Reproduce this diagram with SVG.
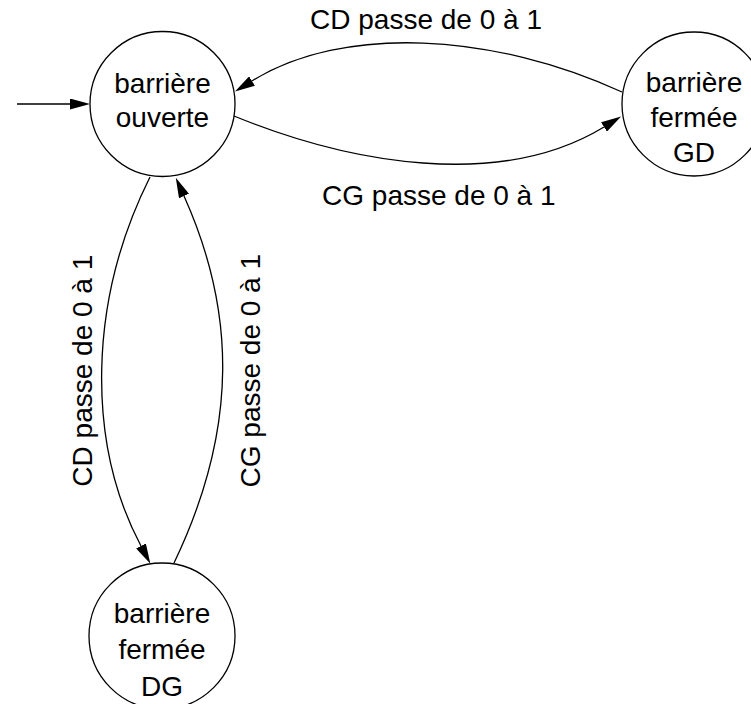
<svg xmlns="http://www.w3.org/2000/svg" width="751" height="704" viewBox="0 0 751 704">
<style>
.node circle{fill:#fff;stroke:#000;stroke-width:1.3}
text{font-family:"Liberation Sans",Arial,Helvetica,sans-serif;font-size:28px;fill:#000;text-anchor:middle}
.edge{fill:none;stroke:#000;stroke-width:1.3;marker-end:url(#arr)}
</style>
<defs>
<marker id="arr" viewBox="0 0 20 11" refX="0" refY="5.5" markerUnits="userSpaceOnUse" markerWidth="20" markerHeight="11" orient="auto">
<path d="M0,0 L20,5.5 L0,11 Z" fill="#000"/>
</marker>
</defs>
<g id="connectors">
<path class="edge" d="M17,104 L70,104"/>
<path class="edge" d="M622,92 C493.2,32.8 343.5,24.3 252,81"/>
<path class="edge" d="M234,116 C348.9,163.1 499.8,190.6 604,127"/>
<path class="edge" d="M150,177 C87.5,302.1 86.7,443.6 141,546"/>
<path class="edge" d="M174,563 C240,425.4 234.5,308.3 184,196"/>
<text x="426" y="29">CD passe de 0 à 1</text>
<text x="438.8" y="205">CG passe de 0 à 1</text>
<text transform="translate(91.5,370.7) rotate(-90)">CD passe de 0 à 1</text>
<text transform="translate(259.5,370.7) rotate(-90)">CG passe de 0 à 1</text>
</g>
<g id="barriere-ouverte" class="node">
<circle cx="162.5" cy="104" r="72.5"/>
<text x="162.5" y="92.7">barrière</text>
<text x="162.5" y="126.7">ouverte</text>
</g>
<g id="barriere-fermee-GD" class="node">
<circle cx="694" cy="104" r="72"/>
<text x="694" y="91.7">barrière</text>
<text x="694" y="127">fermée</text>
<text x="694" y="161.7">GD</text>
</g>
<g id="barriere-fermee-DG" class="node">
<circle cx="162" cy="636" r="73"/>
<text x="162" y="622.7">barrière</text>
<text x="162" y="659.3">fermée</text>
<text x="162" y="696">DG</text>
</g>
</svg>
